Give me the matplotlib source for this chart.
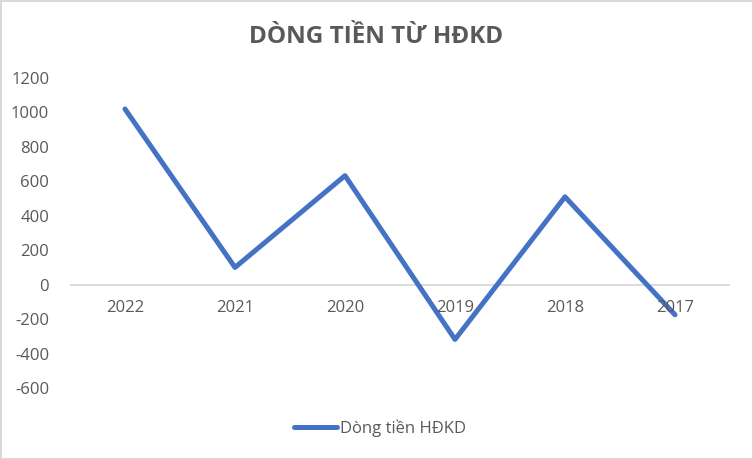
import matplotlib.pyplot as plt

years = ["2022", "2021", "2020", "2019", "2018", "2017"]
cash_flow = [1020, 100, 633, -318, 510, -175]
yticks = [-600, -400, -200, 0, 200, 400, 600, 800, 1000, 1200]

plt.rcParams['font.family'] = ['Open Sans', 'DejaVu Sans']

fig = plt.figure(figsize=(7.53, 4.59), dpi=100)
fig.patch.set_edgecolor("#D9D9D9")
fig.patch.set_linewidth(2)

ax = fig.add_axes([70/753, 1 - 388/459, 660/753, 310/459])
x = list(range(len(years)))
ax.plot(x, cash_flow, color="#4472C4", lw=3.6, solid_joinstyle="round",
        solid_capstyle="round", label="Dòng tiền HĐKD", zorder=3)

ax.set_xlim(-0.5, len(years) - 0.5)
ax.set_ylim(-600, 1200)
ax.set_yticks(yticks)
ax.set_yticklabels([str(v) for v in yticks])
ax.axhline(0, color="#D9D9D9", lw=1.3, zorder=1)

for s in ax.spines.values():
    s.set_visible(False)
ax.tick_params(axis="y", length=0, pad=15, labelsize=12, labelcolor="#595959")
ax.set_xticks(x)
ax.set_xticklabels([])
ax.tick_params(axis="x", length=0)
for xi, lab in zip(x, years):
    ax.annotate(lab, (xi, 0), xytext=(0, -17), textcoords="offset points",
                ha="center", va="center", fontsize=12, color="#595959")

fig.text(0.5, 1 - 37/459, "DÒNG TIỀN TỪ HĐKD", ha="center", va="center",
         fontsize=17.5, fontweight="bold", color="#595959")

leg = fig.legend(loc="center", bbox_to_anchor=(380/753, 1 - 428/459), frameon=False,
                 fontsize=12, handlelength=2.6, handletextpad=0.2)
for t in leg.get_texts():
    t.set_color("#595959")

plt.savefig("out.png", dpi=100)
